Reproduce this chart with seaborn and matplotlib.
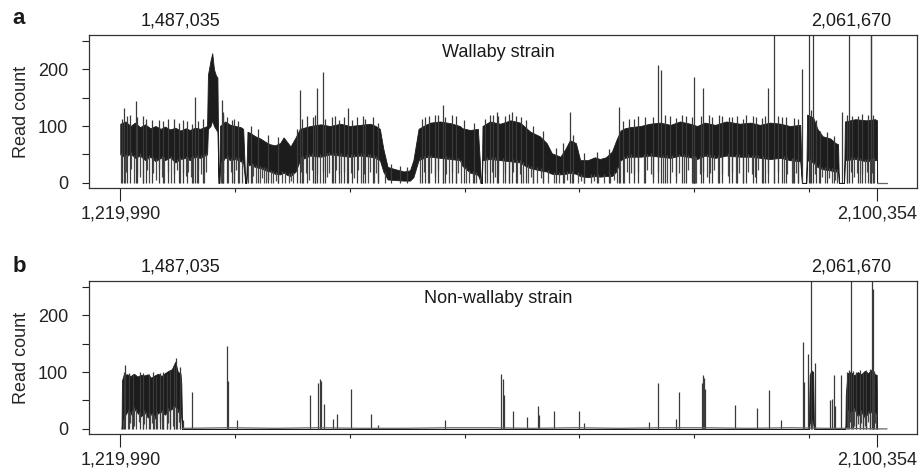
"""
plot.py
-------
Cobertura de leituras (read count) ao longo da região genômica
para a cepa wallaby e a cepa não-wallaby.
"""

import numpy as np
import matplotlib
matplotlib.use("Agg")
import matplotlib.pyplot as plt
import seaborn as sns


# posições em kb; (posição, topo da faixa, base da faixa)
wallaby_band = [
    (1219.99, 104, 50), (1226, 108, 45), (1232, 100, 52), (1237, 106, 44),
    (1243, 98, 48), (1249, 103, 40), (1255, 96, 46), (1261, 100, 38),
    (1267, 95, 44), (1272, 99, 40), (1278, 94, 45), (1284, 97, 36),
    (1290, 92, 42), (1296, 96, 44), (1301, 93, 40), (1307, 97, 46),
    (1313, 95, 44), (1321, 100, 50), (1322, 190, 95), (1325, 215, 100),
    (1327, 228, 110), (1329, 200, 100), (1331, 190, 95), (1333, 185, 90),
    (1334.4, 0, 0), (1335.2, 0, 0), (1336, 100, 30), (1342, 108, 45),
    (1348, 102, 40), (1354, 100, 42), (1360, 98, 38), (1363, 95, 35),
    (1365.5, 0, 0), (1366.5, 0, 0), (1368, 90, 30), (1371, 88, 32),
    (1377, 82, 28), (1383, 78, 26), (1389, 72, 22), (1394, 68, 20),
    (1400, 66, 16), (1406, 70, 15), (1410, 80, 18), (1414, 72, 14),
    (1418, 64, 12), (1424, 80, 20), (1429, 95, 40), (1441, 100, 48),
    (1453, 103, 46), (1464, 100, 50), (1476, 104, 48), (1487, 100, 46),
    (1499, 102, 48), (1511, 104, 46), (1517, 100, 44), (1522, 95, 40),
    (1526, 60, 20), (1531, 28, 6), (1540, 24, 5), (1550, 20, 4),
    (1557, 22, 4), (1561, 40, 10), (1567, 95, 40), (1575, 102, 45),
    (1581, 106, 46), (1592, 108, 44), (1604, 105, 42), (1615, 100, 40),
    (1618, 96, 30), (1627, 93, 18), (1636, 95, 14), (1639.8, 0, 0),
    (1640.6, 0, 0), (1641.4, 100, 40), (1650, 108, 42), (1662, 104, 40),
    (1674, 110, 38), (1685, 106, 36), (1691, 98, 30), (1697, 90, 26),
    (1708, 82, 22), (1716, 70, 20), (1722, 52, 16), (1732, 46, 15),
    (1738, 60, 16), (1743, 75, 18), (1750, 70, 16), (1755, 40, 12),
    (1764, 40, 10), (1772, 45, 12), (1778, 42, 11), (1785, 45, 12),
    (1792, 55, 12), (1797, 75, 20), (1802, 92, 40), (1807, 96, 44),
    (1813, 98, 46), (1825, 100, 46), (1836, 104, 48), (1848, 106, 46),
    (1860, 102, 44), (1871, 108, 48), (1883, 104, 45), (1891, 100, 42),
    (1900, 106, 48), (1912, 102, 44), (1925, 108, 48), (1941, 104, 46),
    (1953, 106, 46), (1964, 102, 44), (1976, 106, 42), (1988, 104, 44),
    (1999, 100, 40), (2011, 102, 38), (2013, 0, 0), (2018, 0, 0),
    (2019, 120, 40), (2026, 115, 36), (2031, 95, 28), (2037, 82, 24),
    (2046, 78, 22), (2052, 70, 20), (2055, 68, 20), (2056, 0, 0),
    (2062, 0, 0), (2063, 108, 40), (2075, 112, 42), (2088, 110, 38),
    (2098, 112, 40), (2100.3, 110, 40), (2100.5, 0, 0),
]

# quedas da cobertura (posição kb, valor mínimo)
wallaby_dips = [
    (1221, 0), (1225, 0), (1236, 0), (1243, 10), (1247, 0), (1254, 0),
    (1262, 5), (1271, 0), (1279, 0), (1289, 0), (1296, 12), (1305, 0),
    (1309, 0), (1317, 0), (1337, 0), (1345, 0), (1352, 0), (1358, 0),
    (1362, 0), (1369, 0), (1373, 0), (1378, 0), (1382, 0), (1387, 0),
    (1390, 0), (1395, 0), (1398, 0), (1403, 0), (1408, 0), (1412, 0),
    (1416, 0), (1421, 0), (1433, 0), (1440, 5), (1446, 0), (1452, 0),
    (1460, 10), (1468, 0), (1477, 0), (1484, 0), (1492, 8), (1500, 0),
    (1508, 0), (1515, 0), (1520, 0), (1528, 0), (1569, 0), (1578, 0),
    (1586, 12), (1595, 0), (1603, 0), (1610, 0), (1616, 0), (1622, 0),
    (1626, 0), (1630, 0), (1634, 0), (1638, 0), (1647, 0), (1656, 10),
    (1665, 0), (1672, 0), (1681, 0), (1688, 0), (1694, 0), (1700, 0),
    (1705, 0), (1712, 0), (1718, 0), (1724, 0), (1730, 0), (1736, 0),
    (1746, 0), (1752, 0), (1760, 0), (1768, 0), (1776, 0), (1783, 0),
    (1790, 0), (1798, 0), (1801, 0), (1806, 0), (1818, 15), (1829, 0),
    (1840, 10), (1851, 0), (1856, 0), (1866, 12), (1876, 0), (1886, 0),
    (1887, 0), (1888, 0), (1889, 0), (1890, 0), (1902, 10), (1915, 0),
    (1927, 12), (1936, 0), (1945, 0), (1958, 10), (1968, 0), (1980, 0),
    (1992, 0), (2002, 0), (2003, 0), (2008, 0), (2022, 0), (2033, 0),
    (2040, 0), (2048, 0), (2054, 0), (2066, 0), (2074, 10), (2080, 0),
    (2086, 0), (2092, 0), (2097, 0),
    (1227, 20), (1233, 25), (1240, 15), (1251, 22), (1258, 18), (1265, 25),
    (1268, 10), (1275, 20), (1282, 15), (1286, 22), (1293, 18), (1299, 20),
    (1302, 10), (1311, 22), (1314, 15), (1320, 20), (1340, 18), (1349, 20),
    (1355, 22), (1374, 12), (1385, 8), (1392, 5), (1401, 4), (1419, 3),
    (1430, 20), (1436, 18), (1443, 22), (1449, 15), (1456, 20), (1463, 18),
    (1471, 22), (1474, 15), (1480, 20), (1488, 18), (1496, 22), (1504, 15),
    (1511, 20), (1518, 18), (1573, 20), (1582, 18), (1590, 22), (1599, 15),
    (1606, 20), (1613, 18), (1644, 18), (1652, 20), (1660, 15), (1668, 18),
    (1677, 20), (1685, 15), (1698, 10), (1709, 8), (1740, 5), (1756, 4),
    (1771, 3), (1794, 5), (1810, 20), (1814, 18), (1822, 20), (1833, 22),
    (1837, 15), (1845, 20), (1862, 20), (1870, 18), (1880, 22), (1894, 15),
    (1898, 20), (1906, 18), (1911, 22), (1920, 15), (1932, 20), (1940, 18),
    (1950, 20), (1955, 15), (1962, 22), (1973, 18), (1985, 20), (1996, 15),
    (2006, 18), (2028, 15), (2036, 10), (2044, 8), (2051, 5), (2070, 20),
    (2077, 18), (2083, 15), (2089, 20), (2094, 18),
]

# picos isolados (posição kb, leituras)
wallaby_spikes = [
    (1224, 131), (1238, 144), (1307, 151), (1338, 146), (1429, 163),
    (1449, 166), (1456, 195), (1485, 131), (1596, 137), (1658, 125),
    (1676, 125), (1743, 125), (1800, 134), (1845, 207), (1849, 198),
    (1888, 187), (1898, 166), (1974, 166), (1981, 270), (2013, 201),
    (2021, 270), (2026, 270), (2060, 125), (2068, 270), (2093, 270),
    (2093.6, 270), (1228, 118), (1250, 112), (1265, 110), (1283, 112),
    (1298, 108), (1340, 120), (1352, 112), (1444, 115), (1470, 118),
    (1495, 115), (1505, 112), (1575, 115), (1586, 120), (1610, 118),
    (1654, 120), (1668, 118), (1686, 115), (1812, 112), (1830, 115),
    (1860, 118), (1878, 118), (1905, 120), (1920, 118), (1932, 115),
    (1948, 120), (1960, 116), (1970, 118), (1995, 115), (2078, 118),
    (2090, 120),
    (1222, 112), (1231, 120), (1240, 115), (1246, 118), (1257, 110),
    (1270, 108), (1276, 112), (1288, 106), (1293, 110), (1304, 104),
    (1311, 108), (1316, 112), (1339, 125), (1344, 115), (1350, 110),
    (1357, 108), (1372, 100), (1380, 95), (1392, 85), (1404, 80),
    (1426, 95), (1432, 112), (1437, 118), (1447, 120), (1458, 112),
    (1466, 116), (1474, 110), (1480, 115), (1490, 110), (1502, 118),
    (1514, 115), (1520, 105), (1535, 34), (1545, 30), (1554, 28),
    (1571, 112), (1579, 118), (1590, 120), (1598, 115), (1606, 120),
    (1620, 110), (1632, 105), (1644, 112), (1650, 120), (1660, 118),
    (1672, 122), (1680, 118), (1692, 110), (1700, 100), (1712, 92),
    (1727, 62), (1735, 70), (1747, 84), (1760, 52), (1775, 55),
    (1788, 60), (1805, 108), (1818, 112), (1822, 118), (1840, 116),
    (1854, 120), (1866, 114), (1874, 120), (1885, 116), (1895, 118),
    (1908, 115), (1916, 120), (1928, 116), (1938, 118), (1944, 112),
    (1956, 118), (1966, 114), (1985, 118), (1990, 116), (2004, 114),
    (2008, 112), (2023, 128), (2029, 110), (2034, 92), (2042, 90),
    (2050, 82), (2066, 120), (2071, 118), (2083, 122), (2096, 120),
]

wallaby_base_kb = [2100.5, 2112]
wallaby_base_val = [0, 0]

non_wallaby_band = [
    (1221.5, 0, 0), (1222, 85, 5), (1224, 95, 20), (1228, 96, 30),
    (1232, 93, 25), (1236, 97, 35), (1240, 92, 28), (1244, 95, 22),
    (1248, 94, 30), (1252, 96, 20), (1256, 90, 26), (1260, 94, 18),
    (1264, 97, 28), (1268, 93, 30), (1272, 98, 25), (1276, 102, 32),
    (1280, 105, 35), (1284, 118, 40), (1287, 100, 30), (1290, 98, 28),
    (1291, 80, 20), (1292, 0, 0), (2021, 0, 0), (2022, 95, 10),
    (2024, 103, 15), (2026, 100, 10), (2027, 0, 0), (2063.5, 0, 0),
    (2064, 60, 5), (2066, 98, 30), (2070, 100, 25), (2074, 94, 35),
    (2078, 100, 22), (2082, 96, 30), (2086, 102, 20), (2090, 98, 28),
    (2094, 104, 30), (2098, 96, 25), (2100, 95, 20), (2100.5, 0, 0),
]

non_wallaby_dips = [
    (1223, 0), (1229, 0), (1234, 0), (1238, 0), (1246, 0), (1250, 0),
    (1255, 0), (1259, 0), (1263, 0), (1270, 0), (1274, 0), (1278, 0),
    (1283, 0), (1286, 0), (1289, 0), (2023, 0), (2025, 0), (2067, 0),
    (2071, 0), (2076, 0), (2080, 0), (2084, 0), (2088, 0), (2092, 0),
    (2096, 0), (2099, 0),
    (1225, 15), (1231, 10), (1236, 5), (1242, 12), (1248, 8), (1253, 15),
    (1257, 10), (1261, 5), (1266, 12), (1268, 0), (1276, 10), (1281, 5),
    (1288, 12), (2065, 10), (2069, 12), (2073, 5), (2078, 8), (2082, 10),
    (2086, 5), (2090, 12), (2094, 8), (2098, 10),
]

non_wallaby_spikes = [
    (1226, 112), (1293, 15), (1303, 65), (1344, 146), (1345, 85),
    (1356, 15), (1441, 59), (1450, 80), (1452, 88), (1454, 85),
    (1457, 44), (1467, 18), (1472, 27), (1488, 71), (1512, 27),
    (1520, 6), (1598, 16), (1663, 96), (1665, 87), (1666, 60),
    (1677, 32), (1693, 21), (1706, 40), (1707, 24), (1725, 32),
    (1754, 31), (1760, 10), (1835, 12), (1846, 80), (1867, 18),
    (1870, 65), (1897, 80), (1898, 94), (1899, 90), (1900, 70),
    (1935, 42), (1961, 37), (1975, 68), (1989, 15), (2014, 152),
    (2015, 83), (2020, 132), (2024, 270), (2028, 115), (2046, 50),
    (2048, 53), (2050, 94), (2052, 40), (2058, 94), (2070, 270),
    (2094, 270), (2096, 246),
    (1224, 100), (1230, 98), (1235, 96), (1243, 100), (1247, 98),
    (1253, 96), (1258, 100), (1262, 92), (1266, 98), (1270, 100),
    (1274, 96), (1278, 104), (1282, 110), (1285, 125), (1289, 108),
    (2065, 100), (2068, 104), (2072, 102), (2076, 100), (2080, 104),
    (2084, 98), (2088, 104), (2092, 106), (2097, 102),
]

non_wallaby_base_kb = [1292, 1350, 1400, 1450, 1500, 1550, 1600, 1650,
                       1700, 1750, 1800, 1850, 1900, 1950, 2000, 2040,
                       2062, 2101, 2112]
non_wallaby_base_val = [1, 2, 1, 2, 1, 1, 2, 2, 1, 2, 1, 2, 2, 1, 2, 1,
                        1, 0, 0]

START_BP = 1219990
END_BP = 2100354
MINOR_TICKS_BP = [1353500, 1487035, 1620500, 1754000, 1887500, 2021000]
TOP_LABELS = ["1,487,035", "2,061,670"]


def desenha_painel(ax, band, dips, spikes, base_kb, base_val, titulo):
    pos, hi, lo = (np.array(v, dtype=float) for v in zip(*band))
    ax.fill_between(pos * 1000, lo, hi, color="#1c1c1c",
                    edgecolor="#1c1c1c", linewidth=0.6)

    d_pos, d_val = (np.array(v, dtype=float) for v in zip(*dips))
    d_top = np.interp(d_pos, pos, lo) + 4
    ax.vlines(d_pos * 1000, d_val, d_top, color="#4a4a4a", linewidth=0.9)

    s_pos, s_val = (np.array(v, dtype=float) for v in zip(*spikes))
    ax.vlines(s_pos * 1000, 0, s_val, color="#3a3a3a", linewidth=0.9)

    sns.lineplot(x=np.array(base_kb) * 1000, y=base_val, ax=ax,
                 color="#666666", linewidth=0.9)

    ax.set_xlim(1183600, 2146900)
    ax.set_ylim(-9, 260)

    ax.set_yticks([0, 50, 100, 150, 200, 250])
    ax.set_yticklabels(["0", "", "100", "", "200", ""])
    ax.set_xticks([START_BP, END_BP])
    ax.set_xticklabels(["1,219,990", "2,100,354"])
    ax.set_xticks(MINOR_TICKS_BP, minor=True)

    ax.tick_params(axis="x", which="major", length=9.5, width=0.8,
                   pad=3, direction="out", colors="#222222")
    ax.tick_params(axis="x", which="minor", length=3, width=0.8,
                   direction="out", colors="#222222")
    ax.tick_params(axis="y", length=5, width=0.8, pad=10,
                   direction="out", colors="#222222")

    for spine in ax.spines.values():
        spine.set_visible(True)
        spine.set_linewidth(0.9)
        spine.set_color("#333333")

    ax.set_ylabel("Read count", labelpad=6)
    ax.set_xlabel("")

    ax.text(0.494, 0.885, titulo, transform=ax.transAxes,
            ha="center", va="center")
    for xf, label in zip([0.11, 0.921], TOP_LABELS):
        ax.annotate(label, xy=(xf, 1.0), xycoords="axes fraction",
                    xytext=(0, 4), textcoords="offset points",
                    ha="center", va="bottom")


sns.set_theme(style="ticks")
plt.rcParams["font.family"] = ["Liberation Sans", "DejaVu Sans"]
plt.rcParams["font.size"] = 13
plt.rcParams["axes.labelsize"] = 13
plt.rcParams["xtick.labelsize"] = 13
plt.rcParams["ytick.labelsize"] = 13
plt.rcParams["text.color"] = "#1a1a1a"

fig = plt.figure(figsize=(9.21, 4.72), dpi=100)
ax_a = fig.add_axes([0.0966, 0.6017, 0.8991, 0.3241])
ax_b = fig.add_axes([0.0966, 0.0805, 0.8991, 0.3241])

desenha_painel(ax_a, wallaby_band, wallaby_dips, wallaby_spikes,
               wallaby_base_kb, wallaby_base_val, "Wallaby strain")
desenha_painel(ax_b, non_wallaby_band, non_wallaby_dips, non_wallaby_spikes,
               non_wallaby_base_kb, non_wallaby_base_val,
               "Non-wallaby strain")

fig.text(0.013, 1 - 19 / 472, "a", fontsize=16, fontweight="bold",
         ha="left", va="center")
fig.text(0.014, 1 - 266 / 472, "b", fontsize=16, fontweight="bold",
         ha="left", va="center")

fig.savefig("out.png", dpi=100)
